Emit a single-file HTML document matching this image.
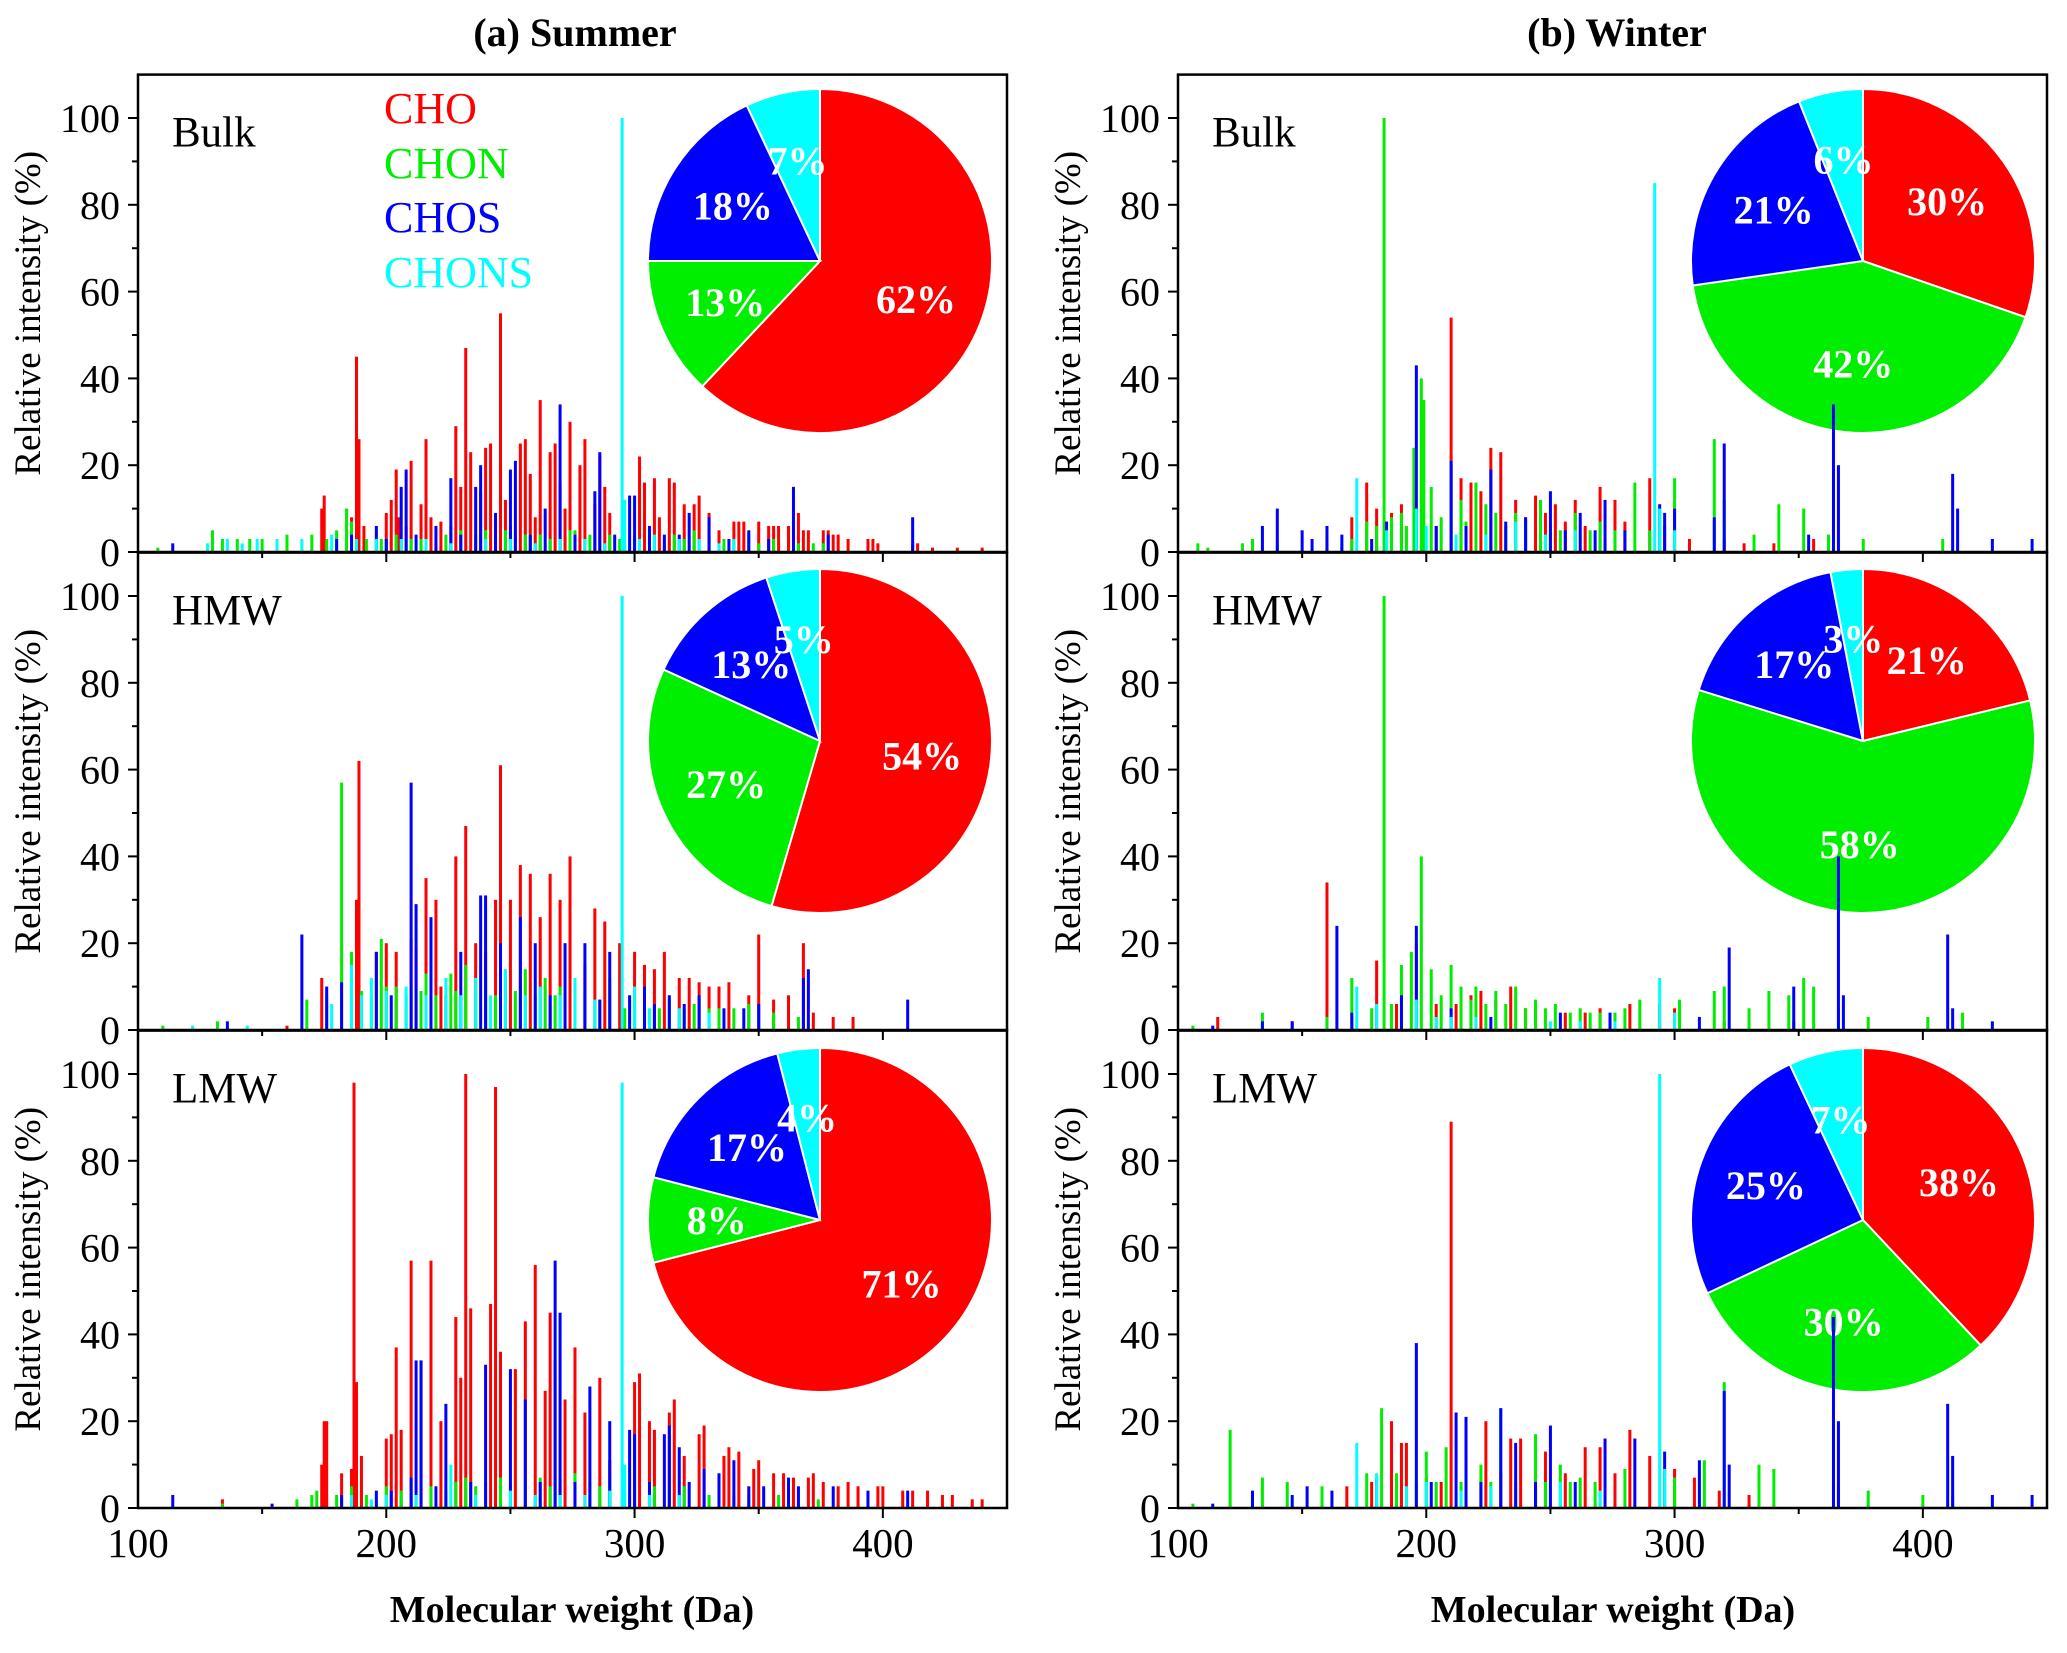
<!DOCTYPE html>
<html><head><meta charset="utf-8"><style>
html,body{margin:0;padding:0;background:#fff;}
svg, svg text{font-family:"Liberation Serif","DejaVu Serif",serif;}
</style></head><body>
<svg id="chart" width="2067" height="1648" viewBox="0 0 2067 1648" xmlns="http://www.w3.org/2000/svg" font-family="Liberation Serif, serif">
<text x="575" y="46" font-size="40" font-weight="bold" text-anchor="middle">(a) Summer</text>
<text x="1617" y="46" font-size="40" font-weight="bold" text-anchor="middle">(b) Winter</text>
<text x="572" y="1622" font-size="38" font-weight="bold" text-anchor="middle">Molecular weight (Da)</text>
<text x="1613" y="1622" font-size="38" font-weight="bold" text-anchor="middle">Molecular weight (Da)</text>
<g font-size="44">
<text x="384" y="123" fill="#ff0000">CHO</text>
<text x="384" y="178" fill="#00ee00">CHON</text>
<text x="384" y="232" fill="#0000ff">CHOS</text>
<text x="384" y="287" fill="#00ffff">CHONS</text>
</g>
</svg>
<script>
const colors = ['#ff0000','#00ee00','#0000ff','#00ffff'];
const seriesNames = ['cho','chon','chos','chons'];
const xTicks = [100,200,300,400];
const yTicks = [0,20,40,60,80,100];
const rowLabels = ['Bulk','HMW','LMW'];
const pieSummerBulk = [62,13,18,7];
const pieSummerHMW = [54,27,13,5];
const pieSummerLMW = [71,8,17,4];
const pieWinterBulk = [30,42,21,6];
const pieWinterHMW = [21,58,17,3];
const pieWinterLMW = [38,30,25,7];
const sBulkCHO = [174,10,175,13,186,8,188,45,189,26,191,6,200,9,202,12,204,19,205,8,208,6,210,21,214,11,216,26,218,8,222,7,226,6,228,29,230,15,232,47,234,23,238,14,240,24,242,25,246,55,248,12,250,6,254,25,256,26,258,18,260,8,262,35,266,23,268,25,270,16,272,10,274,30,278,20,280,26,284,11,286,22,288,15,290,9,302,22,304,16,308,17,310,8,314,17,316,16,320,11,324,11,326,13,330,9,334,5,340,7,342,7,344,7,350,7,354,6,356,6,358,6,362,6,366,9,368,5,370,5,376,5,378,5,380,4,382,4,386,3,394,3,396,3,398,2,412,2,414,2,420,1,430,1,440,1];
const sBulkCHON = [108,1,130,5,134,3,140,3,145,3,150,3,160,4,170,4,176,3,180,5,184,10,186,7,192,3,196,5,198,3,200,3,204,4,210,3,214,3,220,2,224,4,230,5,236,4,240,5,244,7,248,5,252,4,256,4,258,3,262,4,266,3,270,4,274,5,276,5,280,3,282,4,286,4,290,4,294,3,296,3,300,4,306,5,312,3,316,4,320,3,324,5,330,3,336,3,340,3,346,4,350,2,356,3,366,2,372,2,376,2];
const sBulkCHOS = [114,2,180,3,186,4,196,6,200,3,206,15,208,19,212,4,220,6,226,17,230,4,236,15,238,20,244,9,250,19,252,21,258,4,264,10,270,34,276,4,284,14,286,23,292,4,298,13,300,13,306,6,312,4,318,4,322,9,330,8,338,3,346,5,354,3,364,15,378,4,412,8];
const sBulkCHONS = [128,2,136,3,142,2,148,3,156,3,166,3,178,4,188,3,196,3,206,3,216,3,226,2,240,3,250,3,260,2,270,3,280,3,288,2,295,100,296,12,302,3,308,4,318,3,326,3,334,2,340,3];
const sHmwCHO = [160,1,174,12,186,10,188,30,189,62,196,18,200,20,204,18,210,21,212,19,216,35,220,30,222,10,228,40,232,47,236,20,240,18,244,30,246,61,250,30,254,38,258,36,262,26,266,36,270,30,274,40,280,15,284,28,288,25,294,20,300,18,304,15,308,14,312,18,318,12,322,12,326,11,330,10,334,10,338,11,346,8,350,22,356,7,362,8,368,20,372,4,380,3,388,3];
const sHmwCHON = [110,1,132,2,168,7,176,8,182,57,186,18,190,9,194,8,198,21,200,10,204,10,208,8,210,9,214,9,216,13,220,8,226,13,228,9,232,15,236,9,240,13,244,8,248,14,252,9,256,14,260,8,264,12,268,8,270,10,276,9,280,9,286,7,290,12,296,5,300,6,304,5,310,5,314,7,320,5,324,6,330,5,334,5,340,5,346,6,350,4,356,4,366,3];
const sHmwCHOS = [136,2,166,22,176,10,182,11,196,18,202,8,210,57,212,29,218,26,224,8,230,18,238,31,240,31,246,20,254,26,260,20,266,8,272,20,280,20,286,7,290,18,298,8,304,10,308,6,314,8,320,6,326,8,336,5,344,5,350,6,368,12,370,14,410,7];
const sHmwCHONS = [122,1,144,1,178,6,186,15,190,8,194,12,200,9,208,10,216,8,224,12,230,8,236,12,242,8,248,14,256,8,262,10,270,8,276,12,284,7,295,100,300,10,306,5,318,5,330,4];
const sLmwCHO = [134,2,174,10,175,20,176,20,182,8,186,9,187,98,188,29,190,12,200,16,202,17,204,37,206,18,210,57,214,34,218,57,222,20,228,44,230,30,232,100,234,46,242,47,244,97,246,36,252,32,256,43,260,56,264,27,266,45,268,34,272,25,276,37,280,22,286,30,290,11,300,29,302,31,306,20,308,18,314,22,316,25,320,12,326,17,328,19,336,12,338,14,342,13,348,9,350,11,356,8,360,8,364,7,370,7,372,8,376,6,382,5,386,6,390,5,398,5,400,5,408,4,412,4,418,4,424,3,428,3,436,2,440,2];
const sLmwCHON = [134,1,164,2,170,3,172,4,180,3,186,5,192,3,200,5,206,4,210,4,214,3,218,5,224,4,228,6,232,7,236,5,240,6,246,7,250,5,256,7,262,7,266,5,270,7,276,8,282,6,286,5,290,7,296,4,300,5,308,5,314,4,320,5,330,3,340,3,346,3,358,3,374,2];
const sLmwCHOS = [114,3,154,1,182,3,196,4,202,4,210,7,212,34,214,34,220,5,224,24,234,6,240,33,250,32,256,25,262,6,268,57,270,45,276,6,282,28,290,20,298,18,300,17,306,6,312,17,314,19,318,14,322,6,328,9,334,8,340,11,346,5,352,5,362,7,366,5,380,5,394,4,410,4];
const sLmwCHONS = [186,3,194,2,200,3,212,3,226,10,236,3,250,4,260,3,270,3,280,3,290,4,295,98,296,10,306,3,318,3];
const wBulkCHO = [160,4,170,8,176,16,180,10,186,9,190,11,196,6,204,6,210,54,214,17,218,16,222,14,226,24,230,23,236,12,240,8,244,13,248,9,252,11,256,7,260,12,264,6,270,15,276,12,280,7,290,17,296,6,306,3,320,3,328,2,340,2,356,3];
const wBulkCHON = [108,2,112,1,126,2,130,3,140,2,166,2,170,3,176,7,180,6,183,100,186,8,190,9,192,6,195,24,198,40,199,35,202,15,206,8,210,20,214,12,216,7,220,16,224,11,228,9,232,6,236,9,240,7,246,12,250,6,254,5,260,9,266,5,270,7,276,5,284,16,290,5,300,17,316,26,320,12,332,4,342,11,352,10,362,4,376,3,408,3];
const wBulkCHOS = [134,6,140,10,150,5,154,3,160,6,166,4,178,3,184,7,196,43,204,6,210,21,216,6,226,19,232,7,240,8,250,14,256,5,262,9,268,5,272,12,280,5,294,11,296,9,300,10,316,8,320,25,354,4,364,34,366,20,412,18,414,10,428,3,444,3];
const wBulkCHONS = [172,17,184,5,196,10,200,6,212,4,224,4,236,7,248,4,260,5,292,85,294,10,300,5];
const wHmwCHO = [116,3,146,2,160,34,180,16,188,6,196,20,204,6,212,6,218,8,222,9,228,7,234,10,240,5,244,6,256,4,264,4,270,5,282,6,294,6,300,5,320,2,348,2];
const wHmwCHON = [106,1,134,4,160,3,170,12,178,5,183,100,186,6,190,15,194,18,198,40,202,14,206,8,210,15,214,10,218,7,220,10,224,6,228,9,232,6,236,10,240,5,244,7,248,5,252,6,258,4,262,5,266,4,270,4,276,4,280,5,286,7,302,7,316,9,320,10,330,5,338,9,346,8,352,12,356,10,366,5,378,3,402,3,416,4];
const wHmwCHOS = [114,1,134,2,146,2,164,24,170,4,190,8,196,24,210,5,226,3,254,4,274,4,310,3,322,19,348,10,366,40,368,8,410,22,412,5,428,2];
const wHmwCHONS = [172,10,180,6,196,7,204,3,210,3,220,3,250,2,262,2,276,2,294,12,300,4];
const wLmwCHO = [168,5,178,6,186,20,190,15,192,15,200,7,206,6,210,89,216,8,224,20,230,8,234,16,238,16,244,8,248,13,256,8,264,14,270,14,276,8,282,18,290,12,300,9,308,7,318,4,330,3];
const wLmwCHON = [106,1,121,18,134,7,144,6,158,5,176,8,182,23,188,8,196,6,200,13,204,6,208,14,214,6,222,10,226,6,230,23,236,6,244,17,248,6,254,10,258,6,262,7,268,6,280,9,300,7,312,11,320,29,334,10,340,9,366,5,378,4,400,3,412,3];
const wLmwCHOS = [114,1,130,4,146,3,152,5,162,4,180,7,196,38,202,6,212,22,216,21,222,6,230,23,236,15,244,6,250,19,260,6,272,16,284,16,296,13,310,11,320,27,322,10,364,44,366,20,410,24,412,12,428,3,444,3];
const wLmwCHONS = [172,15,180,8,192,5,200,6,214,4,226,5,254,6,270,4,294,100,296,9];

const NS='http://www.w3.org/2000/svg';
const svg=document.getElementById('chart');
function mk(tag,attrs,parent){const e=document.createElementNS(NS,tag);for(const k in attrs)e.setAttribute(k,attrs[k]);(parent||svg).appendChild(e);return e;}

const PX0=[138,1178], PW=869, ZERO=[552,1030,1508], UNIT=4.34, XMIN=100, XMAX=450, YMAX=110;
const PIE_CX=[820,1863], PIE_CY=[261,741,1220], PIE_R=172;
const panels=[
 [[sBulkCHO,sBulkCHON,sBulkCHOS,sBulkCHONS],[sHmwCHO,sHmwCHON,sHmwCHOS,sHmwCHONS],[sLmwCHO,sLmwCHON,sLmwCHOS,sLmwCHONS]],
 [[wBulkCHO,wBulkCHON,wBulkCHOS,wBulkCHONS],[wHmwCHO,wHmwCHON,wHmwCHOS,wHmwCHONS],[wLmwCHO,wLmwCHON,wLmwCHOS,wLmwCHONS]]];
const pies=[[pieSummerBulk,pieSummerHMW,pieSummerLMW],[pieWinterBulk,pieWinterHMW,pieWinterLMW]];
const seasons=['summer','winter'];
const FF='Liberation Serif, DejaVu Serif, serif';

for(let c=0;c<2;c++){
 const xs=v=>PX0[c]+(v-XMIN)/(XMAX-XMIN)*PW;
 for(let r=0;r<3;r++){
  const z=ZERO[r], ys=v=>z-v*UNIT, top=ys(YMAX);
  const g=mk('g',{'font-family':FF});
  
  
  const shares=pies[c][r]; const tot=shares.reduce((a,b)=>a+b,0);
  let a0=0; const cx=PIE_CX[c], cy=PIE_CY[r];
  shares.forEach((s,i)=>{
   const a1=a0+s/tot*2*Math.PI;
   const p0=[cx+PIE_R*Math.sin(a0),cy-PIE_R*Math.cos(a0)], p1=[cx+PIE_R*Math.sin(a1),cy-PIE_R*Math.cos(a1)];
   const path=mk('path',{d:`M${cx},${cy} L${p0[0]},${p0[1]} A${PIE_R},${PIE_R} 0 ${(a1-a0)>Math.PI?1:0} 1 ${p1[0]},${p1[1]} Z`,fill:colors[i],stroke:'#fff','stroke-width':2},g);
   
   
   const am=(a0+a1)/2;
   const t=mk('text',{x:cx+0.6*PIE_R*Math.sin(am),y:cy-0.6*PIE_R*Math.cos(am)+14,'font-size':40,'font-weight':'bold',fill:'#fff','text-anchor':'middle','font-family':FF},g);
   t.textContent=s+'%';
   
   
   a0=a1;
  });
  panels[c][r].forEach((arr,si)=>{
   for(let k=0;k<arr.length;k+=2){
    const x=xs(arr[k]);
    const b=mk('rect',{x:x-1.5,y:ys(arr[k+1]),width:3,height:arr[k+1]*UNIT,fill:colors[si]},g);
    
    
   }
  });
  const fr=mk('rect',{x:PX0[c],y:top,width:PW,height:z-top,fill:'none',stroke:'#000','stroke-width':2.5},g);
  
  
  for(let v=0;v<=100;v+=10){
   const tk=mk('line',{x1:PX0[c]-(v%20===0?10:6),x2:PX0[c],y1:ys(v),y2:ys(v),stroke:'#000','stroke-width':2},g);
   
   
  }
  yTicks.forEach(v=>{
   const t=mk('text',{x:PX0[c]-18,y:ys(v)+14,'font-size':40,'text-anchor':'end','font-family':FF},g);
   t.textContent=v;
   
   
  });
  for(let v=150;v<XMAX;v+=50){
   const tk=mk('line',{x1:xs(v),x2:xs(v),y1:z,y2:z+(v%100===0?10:6),stroke:'#000','stroke-width':2},g);
   
   
  }
  if(r===2){
   xTicks.forEach(v=>{
    const t=mk('text',{x:xs(v),y:1557,'font-size':41,'text-anchor':'middle','font-family':FF},g);
    t.textContent=v;
    
    
   });
  }
  const lbl=mk('text',{x:PX0[c]+34,y:top+72,'font-size':43,'font-family':FF},g);
  lbl.textContent=rowLabels[r];
  
  
  const yt=mk('text',{x:0,y:0,'font-size':37,'text-anchor':'middle','font-family':FF,transform:`translate(${PX0[c]-98},${(top+z)/2}) rotate(-90)`},g);
  yt.textContent='Relative intensity (%)';
  
  
 }
}
</script>
</body></html>
